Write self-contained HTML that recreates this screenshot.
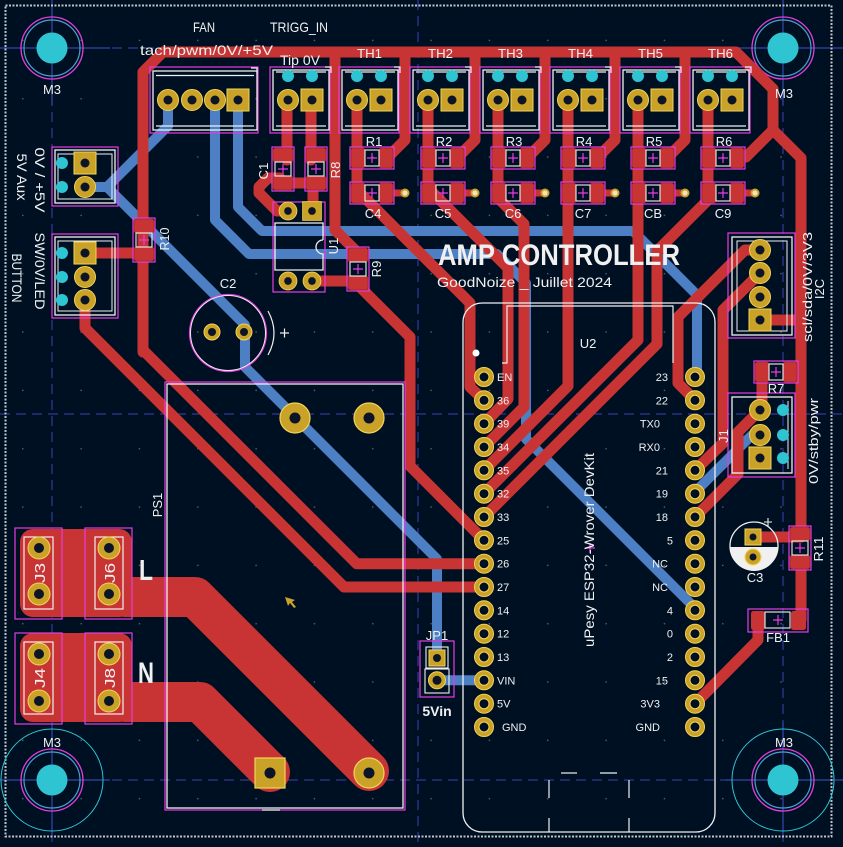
<!DOCTYPE html>
<html><head><meta charset="utf-8"><style>
html,body{margin:0;padding:0;background:#001023;}
svg{display:block}
text{font-family:"Liberation Sans",sans-serif;fill:#f0f0f0}
</style></head><body>
<svg width="843" height="847" viewBox="0 0 843 847" xmlns="http://www.w3.org/2000/svg">
<defs>
<pattern id="grid" x="22" y="39.6" width="58.33" height="58.33" patternUnits="userSpaceOnUse"><circle cx="0.8" cy="0.8" r="0.8" fill="#5a6272"/></pattern>
<g id="pr"><circle r="10.5" fill="#c9a227" stroke="#f3d35a" stroke-width="1"/><circle r="4.5" fill="#0c1428"/></g>
<g id="ps"><rect x="-11" y="-11" width="22" height="22" fill="#c9a227" stroke="#f3d35a" stroke-width="1"/><circle r="4.5" fill="#0c1428"/></g>
<g id="pe"><circle r="9.5" fill="#c9a227" stroke="#f3d35a" stroke-width="1"/><circle r="5" fill="#001023" stroke="#f3d35a" stroke-width="1"/></g>
<g id="th">
<rect x="-18" y="-33" width="60" height="66" fill="none" stroke="#e63ce0" stroke-width="1.2"/>
<rect x="-15" y="-30" width="56" height="60" fill="none" stroke="#f0f0f0" stroke-width="1.3"/>
<line x1="-12" y1="-28" x2="38" y2="-28" stroke="#f0f0f0" stroke-width="1.2"/>
<line x1="-12" y1="26" x2="38" y2="26" stroke="#f0f0f0" stroke-width="1.2"/>
<circle cx="0" cy="-24" r="6" fill="#2ec4d2"/>
<circle cx="24" cy="-24" r="6" fill="#2ec4d2"/>
<polyline points="37,-33 43,-33 43,-27" fill="none" stroke="#f0f0f0" stroke-width="1.2"/>
<use href="#pr"/>
<use href="#ps" x="24"/>
</g>
<g id="rh">
<rect x="-22" y="-11" width="44" height="22" fill="none" stroke="#e63ce0" stroke-width="1.2"/>
<rect x="-21" y="-10" width="14" height="20" rx="2.5" fill="#c83434" stroke="#9a2828" stroke-width="0.8"/>
<rect x="7" y="-10" width="14" height="20" rx="2.5" fill="#c83434" stroke="#9a2828" stroke-width="0.8"/>
<rect x="-7" y="-8" width="14" height="16" fill="none" stroke="#f0f0f0" stroke-width="1.1"/>
<path d="M-5 0 H5 M0 -5 V5" stroke="#e63ce0" stroke-width="1.2"/>
</g>
<g id="m3"><circle r="31" fill="none" stroke="#e63ce0" stroke-width="1.3"/><circle r="28" fill="none" stroke="#4d9fd0" stroke-width="1.2"/><circle r="15.5" fill="#2ec4d2"/></g>
<g id="via"><circle r="4.5" fill="#c9a227"/><circle r="2.6" fill="#f2e2c0"/></g>
</defs>

<rect width="843" height="847" fill="#001023"/>
<rect x="5" y="5" width="827" height="832" fill="url(#grid)"/>

<!-- guides -->
<g stroke="#3b3fb0" stroke-width="1" stroke-dasharray="10 6" fill="none">
<line x1="0" y1="48" x2="843" y2="48"/>
<line x1="0" y1="414" x2="843" y2="414"/>
<line x1="0" y1="780" x2="843" y2="780"/>
<line x1="52" y1="0" x2="52" y2="847"/>
<line x1="418" y1="0" x2="418" y2="847"/>
<line x1="783" y1="0" x2="783" y2="847"/>
</g>
<g stroke="#3b55d0" stroke-width="1">
<line x1="0" y1="48" x2="110" y2="48"/><line x1="52" y1="0" x2="52" y2="105"/>
<line x1="725" y1="48" x2="843" y2="48"/><line x1="783" y1="0" x2="783" y2="105"/>
<line x1="0" y1="780" x2="110" y2="780"/><line x1="52" y1="722" x2="52" y2="838"/>
<line x1="725" y1="780" x2="843" y2="780"/><line x1="783" y1="722" x2="783" y2="838"/>
</g>

<!-- board edge -->
<rect x="5.5" y="5.5" width="826" height="831" fill="none" stroke="#c0c4c8" stroke-width="2" stroke-dasharray="2 1.5"/>

<!-- mounting holes -->
<use href="#m3" x="52" y="48"/>
<use href="#m3" x="783" y="48"/>
<use href="#m3" x="52" y="780"/>
<use href="#m3" x="783" y="780"/>
<circle cx="52" cy="780" r="51" fill="none" stroke="#2ec4d2" stroke-width="1"/>
<circle cx="783" cy="780" r="51" fill="none" stroke="#2ec4d2" stroke-width="1"/>

<!-- blue B.Cu traces -->
<g fill="none" stroke="#4d7fc4" stroke-width="10" stroke-linecap="round" stroke-linejoin="round">
<path d="M85 187 H107 L168 126 V100"/>
<path d="M107 187 L245 325 V367 L437 559 V657"/>
<path d="M437 680.3 H484"/>
<path d="M215 100 V220 L249 254 H497 L526 283 V439 L695 608"/>
<path d="M238 100 V207 L262 231 H633 L697 295 V377"/>
<path d="M760 435 H752 L695 492"/>
</g>

<!-- red pours -->
<g fill="#c83434">
<rect x="20" y="529" width="112" height="88" rx="13"/>
<rect x="20" y="633" width="112" height="89" rx="13"/>
</g>
<g fill="none" stroke="#c83434" stroke-width="40" stroke-linecap="round" stroke-linejoin="round">
<path d="M125 597 H195 L369 771"/>
<path d="M125 702 H200 L270 772"/>
</g>

<!-- red F.Cu traces -->
<g fill="none" stroke="#c83434" stroke-width="11" stroke-linecap="round" stroke-linejoin="round">
<path d="M143 352 V72 L163 52 H736 L773 89 V130 L801 158 V534"/>
<path d="M773 130 L746 157"/>
<path d="M801 562 V620"/>
<path d="M758 620 V640 L695 703.7"/>
<path d="M753 537 H801"/>
<path d="M790 372 H801"/>
<path d="M762 372 V410"/>
<path d="M760 320 H801"/>
<path d="M760 250 H745 L678 317 V383 L695 400.3"/>
<path d="M760 273 L723 310 V443 L695 470.3"/>
<path d="M760 410 L738 432 V474 L695 517"/>
<path d="M357 100 V190 L470 303 V387 L484 400.3"/>
<path d="M428 100 V188 L508 268 V399 L484 423.7"/>
<path d="M498 100 V198 L524 224 V407 L484 447"/>
<path d="M568 100 V386 L484 470.3"/>
<path d="M638 100 V340 L484 493.7"/>
<path d="M708 100 V200 L657 251 V344 L484 517"/>
<path d="M405 52 V140 L387 158"/>
<path d="M475 52 V140 L457 158"/>
<path d="M545 52 V140 L527 158"/>
<path d="M615 52 V140 L597 158"/>
<path d="M685 52 V140 L667 158"/>
<path d="M335 52 V230 L358 253"/>
<path d="M287 100 V160"/>
<path d="M311 100 V160"/>
<path d="M283 183 H316"/>
<path d="M313 183 V211"/>
<path d="M280 178 H268 L259 187 V193 L277 211 H288"/>
<path d="M312 281 H358"/>
<path d="M358 285 L410 337 V466 L484 540.3"/>
<path d="M143 350 L356.7 563.7 H484"/>
<path d="M85 253 H143"/>
<path d="M85 300 V328 L344 587 H484"/>
</g>
<g fill="none" stroke="#c83434" stroke-width="7" stroke-linecap="round">
<path d="M386 193 H404"/><path d="M457 193 H475"/><path d="M527 193 H545"/>
<path d="M597 193 H615"/><path d="M667 193 H685"/><path d="M737 193 H755"/>
</g>

<!-- SMD R/C -->
<use href="#rh" x="372" y="158"/><use href="#rh" x="443" y="158"/><use href="#rh" x="513" y="158"/>
<use href="#rh" x="583" y="158"/><use href="#rh" x="653" y="158"/><use href="#rh" x="723" y="158"/>
<use href="#rh" x="372" y="193"/><use href="#rh" x="443" y="193"/><use href="#rh" x="513" y="193"/>
<use href="#rh" x="583" y="193"/><use href="#rh" x="653" y="193"/><use href="#rh" x="723" y="193"/>
<use href="#via" x="405" y="193"/><use href="#via" x="475" y="193"/><use href="#via" x="545" y="193"/>
<use href="#via" x="615" y="193"/><use href="#via" x="685" y="193"/><use href="#via" x="755" y="193"/>
<use href="#rh" transform="translate(283,169) rotate(90)"/>
<use href="#rh" transform="translate(316,169) rotate(90)"/>
<use href="#rh" transform="translate(358,269) rotate(90)"/>
<use href="#rh" transform="translate(144,240) rotate(90)"/>
<use href="#rh" transform="translate(800,548) rotate(90)"/>
<use href="#rh" x="776" y="372"/>
<!-- FB1 -->
<rect x="748" y="609" width="60" height="23" fill="none" stroke="#e63ce0" stroke-width="1.2"/>
<rect x="751" y="611" width="14" height="19" rx="2.5" fill="#c83434"/>
<rect x="791" y="611" width="15" height="19" rx="2.5" fill="#c83434"/>
<rect x="765" y="612" width="25" height="16" fill="none" stroke="#f0f0f0" stroke-width="1.1"/>
<path d="M773 620 H783 M778 615 V625" stroke="#e63ce0" stroke-width="1.2"/>

<!-- TH connectors -->
<use href="#th" x="288" y="100"/>
<use href="#th" x="357" y="100"/>
<use href="#th" x="428" y="100"/>
<use href="#th" x="498" y="100"/>
<use href="#th" x="568" y="100"/>
<use href="#th" x="638" y="100"/>
<use href="#th" x="708" y="100"/>

<!-- FAN connector -->
<rect x="150" y="67" width="108" height="66" fill="none" stroke="#e63ce0" stroke-width="1.2"/>
<rect x="153" y="71" width="104" height="59" fill="none" stroke="#f0f0f0" stroke-width="1.3"/>
<path d="M156 75.5 H254 M156 126 H254" stroke="#f0f0f0" stroke-width="1.2"/>
<polyline points="251,68 257,68 257,74" fill="none" stroke="#f0f0f0" stroke-width="1.2"/>
<use href="#pr" x="168" y="100"/><use href="#pr" x="192" y="100"/><use href="#pr" x="215" y="100"/><use href="#ps" x="238" y="100"/>

<!-- 0V/+5V connector -->
<rect x="52" y="147" width="66" height="59" fill="none" stroke="#e63ce0" stroke-width="1.2"/>
<rect x="55" y="150" width="60" height="53" fill="none" stroke="#f0f0f0" stroke-width="1.3"/>
<rect x="58" y="154" width="54" height="45" fill="none" stroke="#f0f0f0" stroke-width="1"/>
<circle cx="62" cy="163" r="6" fill="#2ec4d2"/><circle cx="62" cy="187" r="6" fill="#2ec4d2"/>
<use href="#ps" x="85" y="163"/><use href="#pr" x="85" y="187"/>

<!-- BUTTON connector -->
<rect x="52" y="234" width="66" height="84" fill="none" stroke="#e63ce0" stroke-width="1.2"/>
<rect x="55" y="237" width="60" height="78" fill="none" stroke="#f0f0f0" stroke-width="1.3"/>
<rect x="58" y="241" width="54" height="70" fill="none" stroke="#f0f0f0" stroke-width="1"/>
<circle cx="62" cy="253" r="6" fill="#2ec4d2"/><circle cx="62" cy="277" r="6" fill="#2ec4d2"/><circle cx="62" cy="300" r="6" fill="#2ec4d2"/>
<use href="#ps" x="85" y="253"/><use href="#pr" x="85" y="277"/><use href="#pr" x="85" y="300"/>

<!-- I2C connector -->
<rect x="728" y="233" width="67" height="105" fill="none" stroke="#e63ce0" stroke-width="1.2"/>
<rect x="732" y="237" width="60" height="98" fill="none" stroke="#f0f0f0" stroke-width="1.3"/>
<rect x="737" y="241" width="50" height="90" fill="none" stroke="#f0f0f0" stroke-width="1"/>
<use href="#pr" x="760" y="250"/><use href="#pr" x="760" y="273"/><use href="#pr" x="760" y="297"/><use href="#ps" x="760" y="320"/>

<!-- J1 connector -->
<rect x="728" y="393" width="67" height="84" fill="none" stroke="#e63ce0" stroke-width="1.2"/>
<rect x="732" y="397" width="60" height="76" fill="none" stroke="#f0f0f0" stroke-width="1.3"/>
<line x1="788" y1="401" x2="788" y2="469" stroke="#f0f0f0" stroke-width="1"/>
<circle cx="783" cy="410" r="6" fill="#2ec4d2"/><circle cx="783" cy="435" r="6" fill="#2ec4d2"/><circle cx="783" cy="458" r="6" fill="#2ec4d2"/>
<use href="#pr" x="760" y="410"/><use href="#pr" x="760" y="435"/><use href="#ps" x="760" y="458"/>

<!-- U1 -->
<rect x="273" y="202" width="52" height="90" fill="none" stroke="#e63ce0" stroke-width="1.2"/>
<path d="M323 240 V223 H275 V270 H323 V254 A7 7 0 0 1 323 240" fill="none" stroke="#f0f0f0" stroke-width="1.3"/>
<g transform="translate(288,211) scale(0.85)"><use href="#pr"/></g>
<g transform="translate(312,211) scale(0.85)"><use href="#ps"/></g>
<g transform="translate(288,281) scale(0.85)"><use href="#pr"/></g>
<g transform="translate(312,281) scale(0.85)"><use href="#pr"/></g>

<!-- C2 -->
<circle cx="228" cy="333" r="38.5" fill="none" stroke="#e63ce0" stroke-width="1.2"/>
<circle cx="228" cy="333" r="37.5" fill="none" stroke="#f0f0f0" stroke-width="1"/>
<path d="M268 311 Q280 333 268 355" fill="none" stroke="#f0f0f0" stroke-width="1.2"/>
<path d="M280 333 H289 M284.5 328.5 V337.5" stroke="#f0f0f0" stroke-width="1.2"/>
<circle cx="212" cy="332" r="8" fill="#c9a227" stroke="#f3d35a"/><circle cx="212" cy="332" r="4" fill="#0c1428"/>
<circle cx="244" cy="332" r="8" fill="#c9a227" stroke="#f3d35a"/><circle cx="244" cy="332" r="4" fill="#0c1428"/>

<!-- PS1 -->
<rect x="165" y="382" width="240" height="428" fill="none" stroke="#e63ce0" stroke-width="1.2"/>
<rect x="167" y="384" width="236" height="424" fill="none" stroke="#f0f0f0" stroke-width="1.3"/>
<line x1="262" y1="810" x2="280" y2="810" stroke="#f0f0f0" stroke-width="1.2"/>
<circle cx="295" cy="418" r="15" fill="#c9a227" stroke="#f3d35a" stroke-width="1.2"/><circle cx="295" cy="418" r="5.5" fill="#0c1428"/>
<circle cx="369" cy="418" r="15" fill="#c9a227" stroke="#f3d35a" stroke-width="1.2"/><circle cx="369" cy="418" r="5.5" fill="#0c1428"/>
<rect x="255" y="758" width="30" height="30" fill="#c9a227" stroke="#f3d35a" stroke-width="1.2"/><circle cx="270" cy="773" r="5.5" fill="#0c1428"/>
<circle cx="369" cy="773" r="15" fill="#c9a227" stroke="#f3d35a" stroke-width="1.2"/><circle cx="369" cy="773" r="5.5" fill="#0c1428"/>
<polygon points="285,597 295,600 292,602 296,607 294,608 290,603 288,606" fill="#c9a227"/>

<!-- J3/J6/J4/J8 -->
<g fill="none" stroke="#e63ce0" stroke-width="1.2">
<rect x="15" y="528" width="47" height="91"/><rect x="85" y="528" width="47" height="91"/>
<rect x="15" y="633" width="47" height="91"/><rect x="85" y="633" width="47" height="91"/>
</g>
<g fill="none" stroke="#f0f0f0" stroke-width="1.2">
<rect x="24" y="537" width="29" height="72"/><rect x="95" y="537" width="28" height="72"/>
<rect x="24" y="642" width="29" height="72"/><rect x="95" y="642" width="28" height="72"/>
</g>
<g>
<circle cx="39" cy="548" r="11" fill="#c9a227" stroke="#f3d35a"/><circle cx="39" cy="548" r="5" fill="#0c1428"/>
<circle cx="39" cy="594" r="11" fill="#c9a227" stroke="#f3d35a"/><circle cx="39" cy="594" r="5" fill="#0c1428"/>
<circle cx="109" cy="548" r="11" fill="#c9a227" stroke="#f3d35a"/><circle cx="109" cy="548" r="5" fill="#0c1428"/>
<circle cx="109" cy="594" r="11" fill="#c9a227" stroke="#f3d35a"/><circle cx="109" cy="594" r="5" fill="#0c1428"/>
<circle cx="39" cy="654" r="11" fill="#c9a227" stroke="#f3d35a"/><circle cx="39" cy="654" r="5" fill="#0c1428"/>
<circle cx="39" cy="701" r="11" fill="#c9a227" stroke="#f3d35a"/><circle cx="39" cy="701" r="5" fill="#0c1428"/>
<circle cx="109" cy="654" r="11" fill="#c9a227" stroke="#f3d35a"/><circle cx="109" cy="654" r="5" fill="#0c1428"/>
<circle cx="109" cy="701" r="11" fill="#c9a227" stroke="#f3d35a"/><circle cx="109" cy="701" r="5" fill="#0c1428"/>
</g>

<!-- JP1 -->
<rect x="420" y="641" width="34" height="56" fill="none" stroke="#e63ce0" stroke-width="1.2"/>
<rect x="426" y="647" width="22" height="21" fill="none" stroke="#f0f0f0" stroke-width="1.1"/>
<rect x="425" y="669" width="24" height="24" fill="none" stroke="#f0f0f0" stroke-width="1.1"/>
<rect x="429" y="650" width="16" height="16" fill="#c9a227" stroke="#f3d35a"/><circle cx="437" cy="658" r="4" fill="#0c1428"/>
<circle cx="437" cy="680.3" r="8.5" fill="#c9a227" stroke="#f3d35a"/><circle cx="437" cy="680.3" r="4.5" fill="#0c1428"/>

<!-- C3 -->
<path d="M730 547 A24 24 0 0 0 778 547 Z" fill="#f0f0f0"/>
<circle cx="754" cy="546" r="24" fill="none" stroke="#f0f0f0" stroke-width="1.3"/>
<path d="M764 522 H772 M768 518 V526" stroke="#f0f0f0" stroke-width="1.1"/>
<rect x="745" y="529" width="16" height="16" fill="#c9a227" stroke="#f3d35a"/><circle cx="753" cy="537" r="3.5" fill="#0c1428"/>
<circle cx="753" cy="557" r="8" fill="#c9a227" stroke="#f3d35a"/><circle cx="753" cy="557" r="3.5" fill="#0c1428"/>

<!-- ESP32 module -->
<rect x="463" y="303" width="252" height="529" rx="19" fill="none" stroke="#f0f0f0" stroke-width="1.3"/>
<polyline points="502,363 507,363 507,306 673,306 673,363" fill="none" stroke="#f0f0f0" stroke-width="1.2"/>
<circle cx="476" cy="353" r="3.5" fill="#ffffff"/>
<g stroke="#f0f0f0" stroke-width="1.2">
<line x1="561" y1="773" x2="577" y2="773"/><line x1="600" y1="773" x2="617" y2="773"/>
<line x1="549" y1="780" x2="549" y2="798"/><line x1="629" y1="780" x2="629" y2="798"/>
<line x1="549" y1="818" x2="549" y2="832"/><line x1="629" y1="818" x2="629" y2="832"/>
</g>
<g>
<use href="#pe" x="484" y="377"/><use href="#pe" x="484" y="400.3"/><use href="#pe" x="484" y="423.7"/><use href="#pe" x="484" y="447"/>
<use href="#pe" x="484" y="470.3"/><use href="#pe" x="484" y="493.7"/><use href="#pe" x="484" y="517"/><use href="#pe" x="484" y="540.3"/>
<use href="#pe" x="484" y="563.7"/><use href="#pe" x="484" y="587"/><use href="#pe" x="484" y="610.3"/><use href="#pe" x="484" y="633.7"/>
<use href="#pe" x="484" y="657"/><use href="#pe" x="484" y="680.3"/><use href="#pe" x="484" y="703.7"/><use href="#pe" x="484" y="727"/>
<use href="#pe" x="695" y="377"/><use href="#pe" x="695" y="400.3"/><use href="#pe" x="695" y="423.7"/><use href="#pe" x="695" y="447"/>
<use href="#pe" x="695" y="470.3"/><use href="#pe" x="695" y="493.7"/><use href="#pe" x="695" y="517"/><use href="#pe" x="695" y="540.3"/>
<use href="#pe" x="695" y="563.7"/><use href="#pe" x="695" y="587"/><use href="#pe" x="695" y="610.3"/><use href="#pe" x="695" y="633.7"/>
<use href="#pe" x="695" y="657"/><use href="#pe" x="695" y="680.3"/><use href="#pe" x="695" y="703.7"/><use href="#pe" x="695" y="727"/>
</g>
<path d="M585 548 H595 M590 543 V553" stroke="#e63ce0" stroke-width="1.3"/>

<!-- TEXT -->
<g font-size="13">
<text x="52" y="94" text-anchor="middle">M3</text>
<text x="784" y="98" text-anchor="middle">M3</text>
<text x="52" y="747" text-anchor="middle">M3</text>
<text x="784" y="747" text-anchor="middle">M3</text>
</g>
<g font-size="14">
<text x="193" y="32" textLength="22" lengthAdjust="spacingAndGlyphs">FAN</text>
<text x="270" y="32" textLength="58" lengthAdjust="spacingAndGlyphs">TRIGG_IN</text>
<text x="140" y="55" textLength="133" lengthAdjust="spacingAndGlyphs">tach/pwm/0V/+5V</text>
<text x="280" y="65" textLength="40" lengthAdjust="spacingAndGlyphs">Tip 0V</text>
</g>
<g font-size="13">
<text x="357" y="58" textLength="25" lengthAdjust="spacingAndGlyphs">TH1</text>
<text x="428" y="58" textLength="25" lengthAdjust="spacingAndGlyphs">TH2</text>
<text x="498" y="58" textLength="25" lengthAdjust="spacingAndGlyphs">TH3</text>
<text x="568" y="58" textLength="25" lengthAdjust="spacingAndGlyphs">TH4</text>
<text x="638" y="58" textLength="25" lengthAdjust="spacingAndGlyphs">TH5</text>
<text x="708" y="58" textLength="25" lengthAdjust="spacingAndGlyphs">TH6</text>
</g>
<g font-size="13" text-anchor="middle">
<text x="374" y="146">R1</text><text x="444" y="146">R2</text><text x="514" y="146">R3</text>
<text x="584" y="146">R4</text><text x="654" y="146">R5</text><text x="724" y="146">R6</text>
<text x="373" y="218">C4</text><text x="443" y="218">C5</text><text x="513" y="218">C6</text>
<text x="583" y="218">C7</text><text x="653" y="218">CB</text><text x="723" y="218">C9</text>
<text x="228" y="288">C2</text>
<text x="755" y="582">C3</text>
<text x="776" y="393">R7</text>
<text x="778" y="642">FB1</text>
<text x="588" y="348">U2</text>
<text x="437" y="640">JP1</text>
</g>
<text x="437" y="716" font-size="14" font-weight="bold" text-anchor="middle">5Vin</text>

<!-- rotated -90 labels (reading upward) -->
<g font-size="13" text-anchor="middle">
<text transform="translate(268,171) rotate(-90)">C1</text>
<text transform="translate(340,170) rotate(-90)">R8</text>
<text transform="translate(338,246) rotate(-90)">U1</text>
<text transform="translate(381,269) rotate(-90)">R9</text>
<text transform="translate(169,239) rotate(-90)" textLength="23" lengthAdjust="spacingAndGlyphs">R10</text>
<text transform="translate(162,505) rotate(-90)">PS1</text>
<text transform="translate(728,436) rotate(-90)">J1</text>
<text transform="translate(823,549) rotate(-90)" textLength="25" lengthAdjust="spacingAndGlyphs">R11</text>
<text transform="translate(824,289) rotate(-90)">I2C</text>
<text transform="translate(812,287) rotate(-90)" textLength="110" lengthAdjust="spacingAndGlyphs">scl/sda/0V/3V3</text>
<text transform="translate(818,441) rotate(-90)" textLength="86" lengthAdjust="spacingAndGlyphs">0V/stby/pwr</text>
</g>
<g font-size="15" text-anchor="middle">
<text transform="translate(45,573) rotate(-90)" textLength="20" lengthAdjust="spacingAndGlyphs">J3</text>
<text transform="translate(115,573) rotate(-90)" textLength="20" lengthAdjust="spacingAndGlyphs">J6</text>
<text transform="translate(45,678) rotate(-90)" textLength="20" lengthAdjust="spacingAndGlyphs">J4</text>
<text transform="translate(115,678) rotate(-90)" textLength="20" lengthAdjust="spacingAndGlyphs">J8</text>
</g>
<text transform="translate(594,550) rotate(-90)" font-size="14" text-anchor="middle" textLength="194" lengthAdjust="spacingAndGlyphs">uPesy ESP32-Wrover DevKit</text>

<!-- rotated +90 labels (reading downward) -->
<g font-size="14" text-anchor="middle">
<text transform="translate(35,180) rotate(90)" textLength="65" lengthAdjust="spacingAndGlyphs">0V / +5V</text>
<text transform="translate(17,177) rotate(90)" textLength="47" lengthAdjust="spacingAndGlyphs">5V Aux</text>
<text transform="translate(35,271) rotate(90)" textLength="77" lengthAdjust="spacingAndGlyphs">SW/0V/LED</text>
<text transform="translate(12,278) rotate(90)" textLength="49" lengthAdjust="spacingAndGlyphs">BUTTON</text>
</g>

<!-- L / N -->
<text x="139" y="580" font-size="29" font-weight="bold" textLength="14" lengthAdjust="spacingAndGlyphs">L</text>
<text x="138" y="683" font-size="30" font-weight="bold" textLength="16" lengthAdjust="spacingAndGlyphs">N</text>

<!-- title -->
<text x="438" y="265" font-size="30" font-weight="bold" textLength="242" lengthAdjust="spacingAndGlyphs">AMP CONTROLLER</text>
<text x="437" y="287" font-size="14" textLength="175" lengthAdjust="spacingAndGlyphs">GoodNoize _ Juillet 2024</text>

<!-- ESP pin labels -->
<g font-size="11">
<text x="497" y="381">EN</text><text x="497" y="404.3">36</text><text x="497" y="427.7">39</text><text x="497" y="451">34</text>
<text x="497" y="474.3">35</text><text x="497" y="497.7">32</text><text x="497" y="521">33</text><text x="497" y="544.3">25</text>
<text x="497" y="567.7">26</text><text x="497" y="591">27</text><text x="497" y="614.3">14</text><text x="497" y="637.7">12</text>
<text x="497" y="661">13</text><text x="497" y="684.3">VIN</text><text x="497" y="707.7">5V</text><text x="502" y="731">GND</text>
</g>
<g font-size="11" text-anchor="end">
<text x="668" y="381">23</text><text x="668" y="404.3">22</text><text x="660" y="427.7">TX0</text><text x="660" y="451">RX0</text>
<text x="668" y="474.3">21</text><text x="668" y="497.7">19</text><text x="668" y="521">18</text><text x="673" y="544.3">5</text>
<text x="668" y="567.7">NC</text><text x="668" y="591">NC</text><text x="673" y="614.3">4</text><text x="673" y="637.7">0</text>
<text x="673" y="661">2</text><text x="668" y="684.3">15</text><text x="660" y="707.7">3V3</text><text x="660" y="731">GND</text>
</g>
</svg>
</body></html>
